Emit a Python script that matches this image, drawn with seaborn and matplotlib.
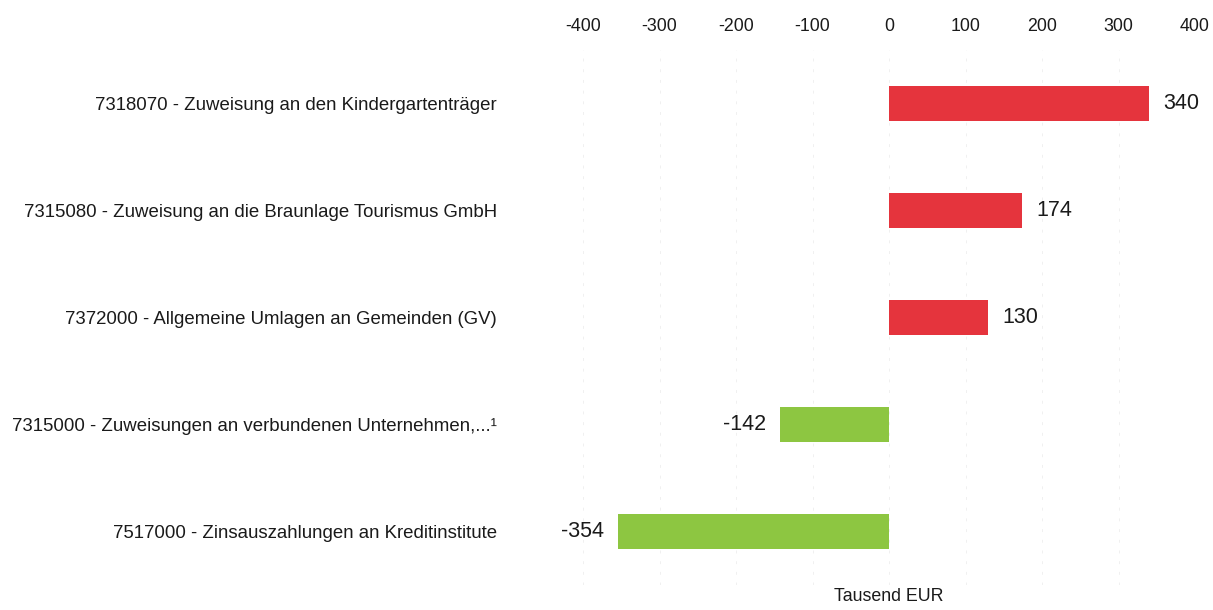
import matplotlib
matplotlib.use("Agg")
import matplotlib.pyplot as plt
import seaborn as sns
import pandas as pd

categories = [
    "7318070 - Zuweisung an den Kindergartenträger",
    "7315080 - Zuweisung an die Braunlage Tourismus GmbH",
    "7372000 - Allgemeine Umlagen an Gemeinden (GV)",
    "7315000 - Zuweisungen an verbundenen Unternehmen,...¹",
    "7517000 - Zinsauszahlungen an Kreditinstitute",
]
values = [340, 174, 130, -142, -354]
tick_values = [-400, -300, -200, -100, 0, 100, 200, 300, 400]

sns.set_theme(style="white")
plt.rcParams['font.family'] = ['Liberation Sans', 'DejaVu Sans']

df = pd.DataFrame({"cat": categories, "val": values})
df["sign"] = ["pos" if v >= 0 else "neg" for v in values]

fig = plt.figure(figsize=(12.13, 6.10), dpi=100)
ax = fig.add_axes([583/1213, 1 - 585/610, (1195 - 583)/1213, 535/610])

sns.barplot(data=df, y="cat", x="val", hue="sign", orient="h",
            palette={"pos": "#E5343D", "neg": "#8DC641"}, width=0.32,
            saturation=1, dodge=False, legend=False, ax=ax, edgecolor="none")

ax.set_xlim(-400, 400)
ax.set_ylim(4.5, -0.5)
ax.set_xticks(tick_values)
ax.set_xticklabels([str(t) for t in tick_values], fontsize=12.8)
ax.xaxis.tick_top()
ax.tick_params(axis="x", length=0, pad=11, colors="#1a1a1a")
ax.tick_params(axis="y", length=0, pad=62, labelsize=13.4, colors="#1a1a1a")
ax.set_ylabel("")
ax.set_xlabel("Tausend EUR", fontsize=12.8, color="#1a1a1a")
ax.xaxis.set_label_position("bottom")
ax.xaxis.labelpad = 2
for s in ax.spines.values():
    s.set_visible(False)
ax.grid(axis="x", color="#f0f0f0", linestyle=(0, (3, 8)), linewidth=0.7)
ax.set_axisbelow(True)

for i, v in enumerate(values):
    if v >= 0:
        ax.text(v + 18, i, str(v), va="center", ha="left", fontsize=15.5, color="#1a1a1a")
    else:
        ax.text(v - 18, i, str(v), va="center", ha="right", fontsize=15.5, color="#1a1a1a")

fig.savefig("out.png", dpi=100)
